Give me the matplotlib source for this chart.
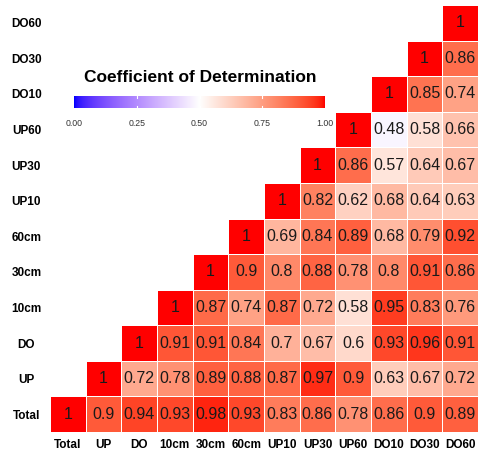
import numpy as np
import matplotlib.pyplot as plt
from matplotlib.colors import ListedColormap

plt.rcParams['font.family'] = ['Liberation Sans', 'DejaVu Sans']

# variable names, bottom row / left column first
labels = ["Total", "UP", "DO", "10cm", "30cm", "60cm",
          "UP10", "UP30", "UP60", "DO10", "DO30", "DO60"]

# R2 values per row, starting at the diagonal and going right
row_total = [1, 0.9, 0.94, 0.93, 0.98, 0.93, 0.83, 0.86, 0.78, 0.86, 0.9, 0.89]
row_up = [1, 0.72, 0.78, 0.89, 0.88, 0.87, 0.97, 0.9, 0.63, 0.67, 0.72]
row_do = [1, 0.91, 0.91, 0.84, 0.7, 0.67, 0.6, 0.93, 0.96, 0.91]
row_10cm = [1, 0.87, 0.74, 0.87, 0.72, 0.58, 0.95, 0.83, 0.76]
row_30cm = [1, 0.9, 0.8, 0.88, 0.78, 0.8, 0.91, 0.86]
row_60cm = [1, 0.69, 0.84, 0.89, 0.68, 0.79, 0.92]
row_up10 = [1, 0.82, 0.62, 0.68, 0.64, 0.63]
row_up30 = [1, 0.86, 0.57, 0.64, 0.67]
row_up60 = [1, 0.48, 0.58, 0.66]
row_do10 = [1, 0.85, 0.74]
row_do30 = [1, 0.86]
row_do60 = [1]

rows = [row_total, row_up, row_do, row_10cm, row_30cm, row_60cm,
        row_up10, row_up30, row_up60, row_do10, row_do30, row_do60]

n = len(labels)
mat = np.full((n, n), np.nan)
for i, r in enumerate(rows):
    mat[i, i:] = r
mat = np.ma.masked_invalid(mat)


# --- blue-white-red gradient interpolated in Lab (like ggplot gradient2) ---
def srgb_to_lab(c):
    c = np.asarray(c, float)
    lin = np.where(c > 0.04045, ((c + 0.055) / 1.055) ** 2.4, c / 12.92)
    M = np.array([[0.4124, 0.3576, 0.1805],
                  [0.2126, 0.7152, 0.0722],
                  [0.0193, 0.1192, 0.9505]])
    xyz = M @ lin / np.array([0.95047, 1.0, 1.08883])
    f = np.where(xyz > 0.008856, np.cbrt(xyz), 7.787 * xyz + 16 / 116)
    return np.array([116 * f[1] - 16, 500 * (f[0] - f[1]), 200 * (f[1] - f[2])])


def lab_to_srgb(lab):
    L, a, b = lab
    fy = (L + 16) / 116
    fx = fy + a / 500
    fz = fy - b / 200
    f = np.array([fx, fy, fz])
    xyz = np.where(f ** 3 > 0.008856, f ** 3, (f - 16 / 116) / 7.787)
    xyz = xyz * np.array([0.95047, 1.0, 1.08883])
    Minv = np.array([[3.2406, -1.5372, -0.4986],
                     [-0.9689, 1.8758, 0.0415],
                     [0.0557, -0.2040, 1.0570]])
    lin = np.clip(Minv @ xyz, 0, 1)
    c = np.where(lin > 0.0031308, 1.055 * lin ** (1 / 2.4) - 0.055, 12.92 * lin)
    return np.clip(c, 0, 1)


blue = srgb_to_lab([0, 0, 1])
white = srgb_to_lab([1, 1, 1])
red = srgb_to_lab([1, 0, 0])
cols = []
for t in np.linspace(0, 1, 256):
    if t < 0.5:
        lab = blue + (white - blue) * (t / 0.5)
    else:
        lab = white + (red - white) * ((t - 0.5) / 0.5)
    cols.append(lab_to_srgb(lab))
cmap = ListedColormap(cols)

# --- figure ---
fig = plt.figure(figsize=(4.78, 4.57), dpi=100)
ax = fig.add_axes([50 / 478, 25 / 457, 428 / 478, 427 / 457])

ax.pcolormesh(np.arange(n + 1), np.arange(n + 1), mat, cmap=cmap,
              vmin=0, vmax=1, edgecolors='white', linewidth=0.4)
for i in range(n):
    for j in range(i, n):
        v = mat[i, j]
        ax.text(j + 0.5, i + 0.5, f"{v:g}", ha='center', va='center',
                fontsize=11.5, color='#1a1a1a')

ax.set_xlim(0, n)
ax.set_ylim(0, n)
ax.set_xticks(np.arange(n) + 0.5)
ax.set_yticks(np.arange(n) + 0.5)
ax.set_xticklabels(labels, fontsize=8.5, fontweight='bold')
ax.set_yticklabels(labels, fontsize=8.5, fontweight='bold', ha='center')
ax.tick_params(axis='both', length=0)
ax.tick_params(axis='x', pad=5)
ax.tick_params(axis='y', pad=17)
for s in ax.spines.values():
    s.set_visible(False)

# --- colour bar legend inside the plot ---
cax = fig.add_axes([74 / 478, (457 - 108) / 457, 251 / 478, 12 / 457])
grad = np.linspace(0, 1, 256).reshape(1, -1)
cax.imshow(grad, aspect='auto', cmap=cmap, extent=[0, 1, 0, 1])
for t in [0.25, 0.5, 0.75]:
    cax.plot([t, t], [0, 0.2], color='white', lw=0.8)
    cax.plot([t, t], [0.8, 1], color='white', lw=0.8)
cax.set_xlim(0, 1)
cax.set_ylim(0, 1)
cax.set_yticks([])
cax.set_xticks([0, 0.25, 0.5, 0.75, 1.0])
cax.set_xticklabels(["0.00", "0.25", "0.50", "0.75", "1.00"],
                    fontsize=6.3, color='#333333')
cax.tick_params(axis='x', length=0, pad=8)
for s in cax.spines.values():
    s.set_visible(False)
fig.text(200 / 478, (457 - 78) / 457, "Coefficient of Determination",
         ha='center', va='center', fontsize=12.5, fontweight='bold')

fig.savefig("out.png", dpi=100)
